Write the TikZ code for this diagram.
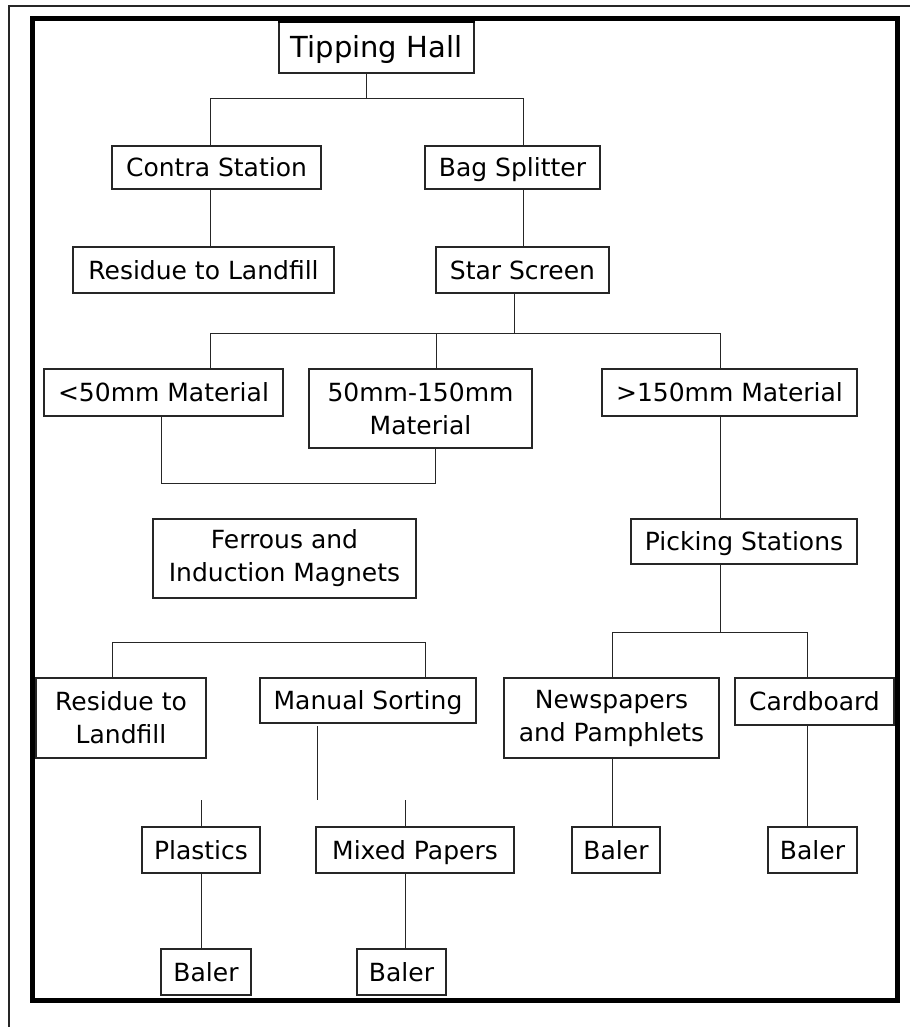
\documentclass[tikz,border=0pt]{standalone}
\usepackage{fontspec}
\setmainfont{DejaVu Sans}
\begin{document}
\begin{tikzpicture}[x=1pt,y=-1pt,
  box/.style={draw=black!85, line width=1.3pt, fill=white, inner sep=0pt, align=center,
    font=\fontsize{25}{33}\selectfont, text=black},
  one/.style={box, text height=22pt, text depth=4pt},
  conn/.style={draw=black!85, line width=1pt}]
\useasboundingbox (0,0) rectangle (910,1027);
\fill[white] (0,0) rectangle (910,1027);
% frames
\draw[line width=1.2pt, black!85] (9,1027) -- (9,6) -- (910,6);
\draw[line width=5pt] (32.5,19) rectangle (897,1000.5);

% nodes
\node[box, minimum width=195pt, minimum height=51pt, font=\fontsize{29}{33}\selectfont, text height=25pt, text depth=4pt] (th) at (376.5,47.5) {Tipping Hall};
\draw[line width=2.5pt] (th.north west) -- (th.north east);
\node[one, minimum width=209pt, minimum height=43pt] (cs) at (216.5,167.5) {Contra Station};
\node[one, minimum width=175pt, minimum height=43pt] (bs) at (512.5,167.5) {Bag Splitter};
\node[one, minimum width=261pt, minimum height=46pt] (rl1) at (203.5,270) {Residue to Landfill};
\node[one, minimum width=173pt, minimum height=46pt] (ss) at (522.5,270) {Star Screen};
\node[one, minimum width=239pt, minimum height=47pt] (m50) at (163.5,392.5) {<50mm Material};
\node[box, minimum width=223pt, minimum height=79pt] (m50150) at (420.5,408.5) {50mm-150mm\\Material};
\node[one, minimum width=255pt, minimum height=47pt] (m150) at (729.5,392.5) {>150mm Material};
\node[box, minimum width=263pt, minimum height=79pt] (fim) at (284.5,558.5) {Ferrous and\\Induction Magnets};
\node[one, minimum width=226pt, minimum height=45pt] (ps) at (744,541.5) {Picking Stations};
\node[box, minimum width=170pt, minimum height=80pt] (rl2) at (121,718) {Residue to\\Landfill};
\node[one, minimum width=216pt, minimum height=45pt] (ms) at (368,700.5) {Manual Sorting};
\node[box, minimum width=215pt, minimum height=80pt] (np) at (611.5,718) {Newspapers\\and Pamphlets};
\node[one, minimum width=159pt, minimum height=47pt] (cb) at (814.5,701.5) {Cardboard};
\node[one, minimum width=118pt, minimum height=46pt] (pl) at (201,850) {Plastics};
\node[one, minimum width=198pt, minimum height=46pt] (mp) at (415,850) {Mixed Papers};
\node[one, minimum width=88pt, minimum height=46pt] (bl1) at (616,850) {Baler};
\node[one, minimum width=89pt, minimum height=46pt] (bl2) at (812.5,850) {Baler};
\node[one, minimum width=90pt, minimum height=46pt] (bl3) at (206,972) {Baler};
\node[one, minimum width=89pt, minimum height=46pt] (bl4) at (401.5,972) {Baler};

% junction coordinates
\coordinate (j1) at (366,99);
\coordinate (a1) at (210,99);
\coordinate (a2) at (523,99);
\coordinate (j2) at (514,333);
\coordinate (b1) at (210,333);
\coordinate (b2) at (436,333);
\coordinate (b3) at (720,333);
\coordinate (c1) at (161,483);
\coordinate (c2) at (435,483);
\coordinate (d0) at (720,632);
\coordinate (d1) at (612,632);
\coordinate (d2) at (807,632);
\coordinate (e1) at (112,642);
\coordinate (e2) at (425,642);
\coordinate (f1) at (317,726);
\coordinate (f2) at (317,800);
\coordinate (g1) at (201,800);
\coordinate (g2) at (405,800);

% connectors
\draw[conn] (j1 |- th.south) -- (j1);
\draw[conn] (a1 |- cs.north) -- (a1) -- (a2) -- (a2 |- bs.north);
\draw[conn] (a1 |- cs.south) -- (a1 |- rl1.north);
\draw[conn] (a2 |- bs.south) -- (a2 |- ss.north);
\draw[conn] (j2 |- ss.south) -- (j2);
\draw[conn] (b1 |- m50.north) -- (b1) -- (b3) -- (b3 |- m150.north);
\draw[conn] (b2) -- (b2 |- m50150.north);
\draw[conn] (c1 |- m50.south) -- (c1) -- (c2) -- (c2 |- m50150.south);
\draw[conn] (b3 |- m150.south) -- (b3 |- ps.north);
\draw[conn] (d0 |- ps.south) -- (d0);
\draw[conn] (d1 |- np.north) -- (d1) -- (d2) -- (d2 |- cb.north);
\draw[conn] (e1 |- rl2.north) -- (e1) -- (e2) -- (e2 |- ms.north);
\draw[conn] (f1) -- (f2);
\draw[conn] (g1) -- (g1 |- pl.north);
\draw[conn] (g2) -- (g2 |- mp.north);
\draw[conn] (d1 |- np.south) -- (d1 |- bl1.north);
\draw[conn] (d2 |- cb.south) -- (d2 |- bl2.north);
\draw[conn] (g1 |- pl.south) -- (g1 |- bl3.north);
\draw[conn] (g2 |- mp.south) -- (g2 |- bl4.north);
\end{tikzpicture}
\end{document}
